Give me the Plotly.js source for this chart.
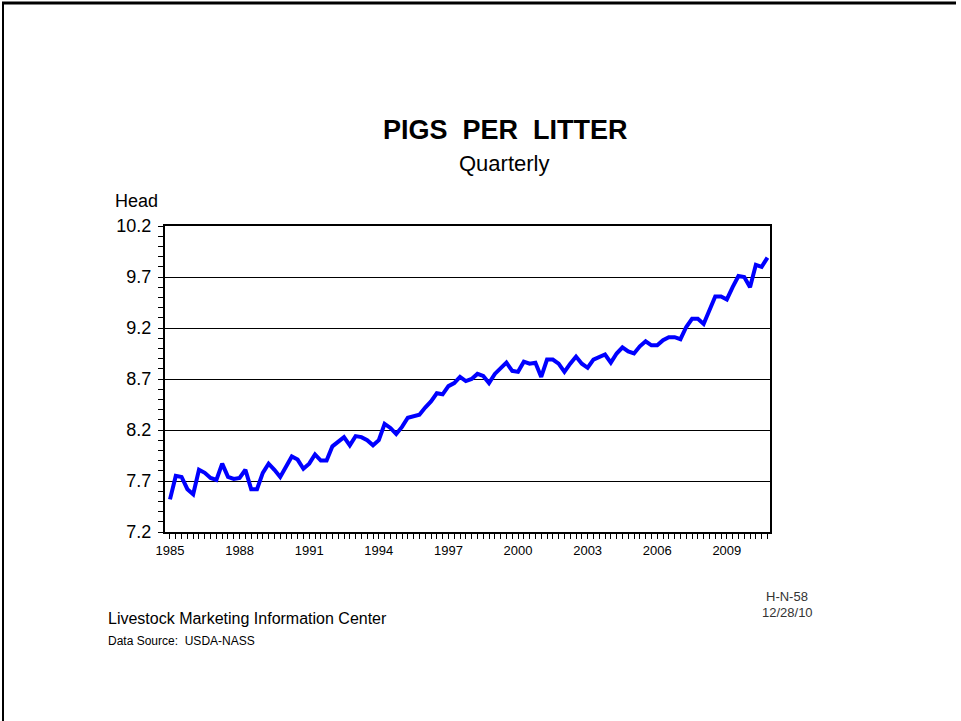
<!DOCTYPE html>
<html>
<head>
<meta charset="utf-8">
<script src="https://cdn.plot.ly/plotly-3.0.1.min.js"></script>
<style>html,body{margin:0;padding:0;background:#fff;}#chart{width:961px;height:721px;}</style>
</head>
<body>
<div id="chart"></div>
<script>
// Pigs per litter, quarterly, 1985 Q1 - 2010 Q4 (head)
const startYear = 1985;
const pigsPerLitter = [
  7.52, 7.75, 7.74, 7.62, 7.57, 7.81, 7.78, 7.73, 7.71, 7.87,
  7.74, 7.72, 7.73, 7.81, 7.62, 7.62, 7.78, 7.87, 7.81, 7.74,
  7.84, 7.94, 7.91, 7.82, 7.87, 7.96, 7.90, 7.90, 8.04, 8.09,
  8.13, 8.05, 8.14, 8.13, 8.10, 8.05, 8.10, 8.26, 8.22, 8.16,
  8.23, 8.32, 8.34, 8.35, 8.42, 8.48, 8.56, 8.55, 8.63, 8.66,
  8.72, 8.68, 8.70, 8.75, 8.73, 8.66, 8.75, 8.81, 8.86, 8.78,
  8.77, 8.87, 8.85, 8.86, 8.72, 8.89, 8.89, 8.85, 8.77, 8.85,
  8.92, 8.85, 8.81, 8.89, 8.91, 8.94, 8.86, 8.95, 9.01, 8.97,
  8.95, 9.02, 9.07, 9.03, 9.03, 9.08, 9.11, 9.11, 9.09, 9.21,
  9.29, 9.29, 9.24, 9.38, 9.51, 9.51, 9.48, 9.60, 9.71, 9.70,
  9.60, 9.82, 9.80, 9.89
];
const quarterX = pigsPerLitter.map((v, i) => startYear + i / 4);
const yTickVals = [7.2, 7.7, 8.2, 8.7, 9.2, 9.7, 10.2];
const yTickText = ["7.2", "7.7", "8.2", "8.7", "9.2", "9.7", "10.2"];
const xTickVals = [1985, 1988, 1991, 1994, 1997, 2000, 2003, 2006, 2009];
const xTickText = ["1985", "1988", "1991", "1994", "1997", "2000", "2003", "2006", "2009"];

const FONT = "Arial, 'Liberation Sans', sans-serif";
// pixel -> paper helpers (plot area 165..770 x, 226..532 y)
const L = 165, R = 770, T = 226, B = 532;
const px = x => (x - L) / (R - L);
const py = y => (B - y) / (B - T);

const trace = {
  x: quarterX, y: pigsPerLitter, type: "scatter", mode: "lines",
  line: {color: "#0000FF", width: 4}, hoverinfo: "x+y"
};

const layout = {
  width: 961, height: 721,
  margin: {l: L, r: 961 - R, t: T, b: 721 - B, pad: 0},
  paper_bgcolor: "#ffffff", plot_bgcolor: "#ffffff",
  showlegend: false,
  font: {family: FONT, color: "#000"},
  xaxis: {
    range: [1984.785, 2010.86],
    tickmode: "array", tickvals: xTickVals, ticktext: xTickText,
    ticks: "outside", ticklen: 5, tickwidth: 1, tickcolor: "#000",
    minor: {dtick: 0.25, tick0: 1985, ticks: "outside", ticklen: 5, tickwidth: 1, tickcolor: "#000", showgrid: false},
    showgrid: false, zeroline: false,
    showline: true, linecolor: "#000", linewidth: 2, mirror: true,
    tickfont: {family: FONT, size: 13, color: "#000"}
  },
  yaxis: {
    range: [7.2, 10.2],
    tickmode: "array", tickvals: yTickVals, ticktext: yTickText,
    ticks: "outside", ticklen: 5, tickwidth: 1, tickcolor: "#000",
    ticklabelstandoff: 3,
    minor: {dtick: 0.1, tick0: 7.2, ticks: "outside", ticklen: 5, tickwidth: 1, tickcolor: "#000", showgrid: false},
    showgrid: true, gridcolor: "#000", gridwidth: 1, zeroline: false,
    showline: true, linecolor: "#000", linewidth: 2, mirror: true,
    tickfont: {family: FONT, size: 18, color: "#000"}
  },
  annotations: [
    {text: "<b>PIGS  PER  LITTER</b>", xref: "paper", yref: "paper", x: px(505), y: py(130),
     xanchor: "center", yanchor: "middle", showarrow: false, font: {family: FONT, size: 27, color: "#000"}},
    {text: "Quarterly", xref: "paper", yref: "paper", x: px(504), y: py(163),
     xanchor: "center", yanchor: "middle", showarrow: false, font: {family: FONT, size: 22, color: "#000"}},
    {text: "Head", xref: "paper", yref: "paper", x: px(113), y: py(201),
     xanchor: "left", yanchor: "middle", showarrow: false, font: {family: FONT, size: 18, color: "#000"}},
    {text: "Livestock Marketing Information Center", xref: "paper", yref: "paper", x: px(106), y: py(618),
     xanchor: "left", yanchor: "middle", showarrow: false, font: {family: FONT, size: 16, color: "#000"}},
    {text: "Data Source:  USDA-NASS", xref: "paper", yref: "paper", x: px(106), y: py(641),
     xanchor: "left", yanchor: "middle", showarrow: false, font: {family: FONT, size: 12, color: "#000"}},
    {text: "H-N-58", xref: "paper", yref: "paper", x: px(787), y: py(596),
     xanchor: "center", yanchor: "middle", showarrow: false, font: {family: FONT, size: 13, color: "#333"}},
    {text: "12/28/10", xref: "paper", yref: "paper", x: px(787), y: py(612),
     xanchor: "center", yanchor: "middle", showarrow: false, font: {family: FONT, size: 13, color: "#333"}}
  ],
  shapes: [
    {type: "line", xref: "paper", yref: "paper", x0: px(2), x1: px(956), y0: py(3), y1: py(3),
     line: {color: "#000", width: 3}},
    {type: "line", xref: "paper", yref: "paper", x0: px(3), x1: px(3), y0: py(2), y1: py(722),
     line: {color: "#000", width: 2}}
  ]
};

Plotly.newPlot("chart", [trace], layout, {displayModeBar: false, staticPlot: true});
</script>
</body>
</html>
